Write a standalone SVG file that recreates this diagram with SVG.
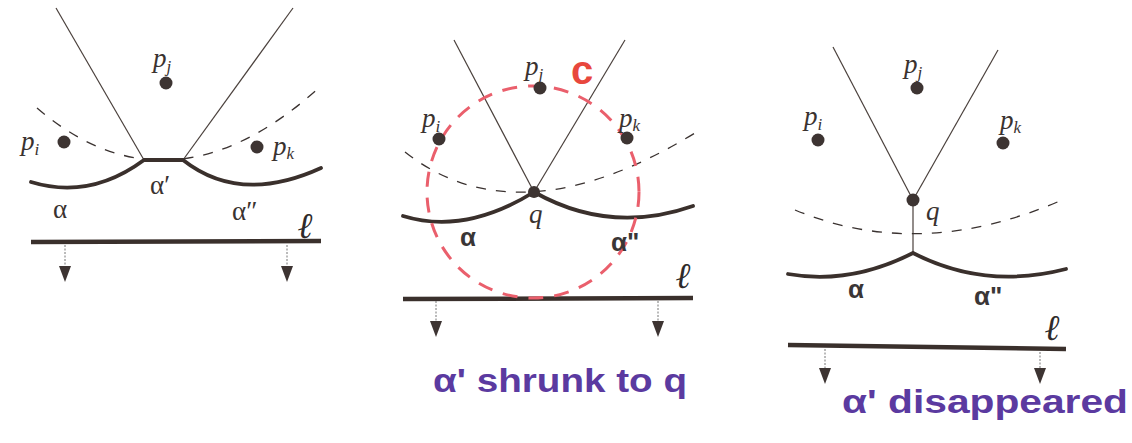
<svg xmlns="http://www.w3.org/2000/svg" width="1132" height="443" viewBox="0 0 1132 443">
<style>
.vor{stroke:#4a403c;stroke-width:1.2;fill:none}
.dash{stroke:#3a3230;stroke-width:1.3;fill:none;stroke-dasharray:10 10}
.beach{stroke:#3a302c;stroke-width:3.8;fill:none;stroke-linecap:round}
.sweep{stroke:#3a302c;stroke-width:4.5;fill:none}
.dot{fill:#3d3432}
.arr{stroke:#777;stroke-width:1;stroke-dasharray:2 1.5;fill:none}
.head{fill:#3d3432}
.lbl{font-family:"Liberation Serif",serif;font-style:italic;font-size:27px;fill:#3a3230}
.sub{font-size:17px}
.alpha{font-family:"Liberation Serif",serif;font-size:27px;fill:#3a3230}
.hand{font-family:"Liberation Sans",sans-serif;font-weight:bold;font-size:26px;fill:#3a3636}
.ell{font-family:"DejaVu Serif",serif;font-weight:bold;font-style:italic;font-size:36px;fill:#2e2a2a}
.purple{font-family:"Liberation Sans",sans-serif;font-weight:bold;font-size:34px;fill:#5b3aa0}
.red{stroke:#ea5f6c;stroke-width:3;fill:none;stroke-dasharray:15 11}
</style>

<g id="panel1">
  <g id="connectors1">
    <line class="vor" x1="56" y1="8" x2="144" y2="160"/>
    <line class="vor" x1="293" y1="8" x2="183" y2="160"/>
    <path class="dash" d="M37,108 Q170,222 320,87"/>
    <path class="beach" d="M31,182 Q90,200 144,160 L183,160 Q240,205 321,168"/>
    <line class="sweep" x1="31" y1="242" x2="321" y2="241"/>
    <line class="arr" x1="65" y1="245" x2="65" y2="266"/>
    <polygon class="head" points="59,266 71,266 65,282"/>
    <line class="arr" x1="287" y1="245" x2="287" y2="266"/>
    <polygon class="head" points="281,266 293,266 287,282"/>
  </g>
  <g id="pj1"><circle class="dot" cx="166" cy="83" r="6.5"/><text class="lbl" x="153" y="67">p<tspan class="sub" dy="5">j</tspan></text></g>
  <g id="pi1"><circle class="dot" cx="64" cy="142" r="6.5"/><text class="lbl" x="21" y="150">p<tspan class="sub" dy="5">i</tspan></text></g>
  <g id="pk1"><circle class="dot" cx="257" cy="147" r="6.5"/><text class="lbl" x="273" y="155">p<tspan class="sub" dy="4">k</tspan></text></g>
  <text class="alpha" x="53" y="218">α</text>
  <text class="alpha" x="150" y="194">α′</text>
  <text class="alpha" x="232" y="220">α″</text>
  <text class="ell" x="298" y="238">ℓ</text>
</g>

<g id="panel2">
  <g id="connectors2">
    <line class="vor" x1="454" y1="40" x2="534" y2="192"/>
    <line class="vor" x1="625" y1="40" x2="534" y2="192"/>
    <path class="dash" d="M405,152 Q518,241 695,133"/>
    <path class="beach" d="M403,216 Q465,235 534,192 Q610,235 693,206"/>
    <line class="sweep" x1="403" y1="299" x2="693" y2="298"/>
    <circle class="red" cx="533" cy="192" r="106"/>
    <line class="arr" x1="436" y1="301" x2="436" y2="321"/>
    <polygon class="head" points="430,321 442,321 436,337"/>
    <line class="arr" x1="658" y1="301" x2="658" y2="321"/>
    <polygon class="head" points="652,321 664,321 658,337"/>
  </g>
  <g id="q2"><circle class="dot" cx="534" cy="192" r="6"/><text class="lbl" x="529" y="223">q</text></g>
  <g id="pj2"><circle class="dot" cx="540" cy="88" r="6.5"/><text class="lbl" x="525" y="75">p<tspan class="sub" dy="5">j</tspan></text></g>
  <g id="pi2"><circle class="dot" cx="439" cy="139" r="6.5"/><text class="lbl" x="422" y="127">p<tspan class="sub" dy="5">i</tspan></text></g>
  <g id="pk2"><circle class="dot" cx="627" cy="138" r="6.5"/><text class="lbl" x="619" y="127">p<tspan class="sub" dy="4">k</tspan></text></g>
  <text x="571" y="84" style="font-family:'Liberation Sans',sans-serif;font-weight:bold;font-size:40px;fill:#e8473d">c</text>
  <text class="hand" x="460" y="246">α</text>
  <text class="hand" x="611" y="251">α"</text>
  <text class="ell" x="676" y="288">ℓ</text>
  <text class="purple" x="433" y="392" textLength="254" lengthAdjust="spacingAndGlyphs">α' shrunk to q</text>
</g>

<g id="panel3">
  <g id="connectors3">
    <line class="vor" x1="833" y1="47" x2="913" y2="200"/>
    <line class="vor" x1="998" y1="50" x2="913" y2="200"/>
    <line class="vor" x1="913" y1="200" x2="913" y2="254"/>
    <path class="dash" d="M795,210 Q920,262 1062,200"/>
    <path class="beach" d="M788,274 Q850,285 913,253 Q985,290 1066,269"/>
    <line class="sweep" x1="788" y1="345" x2="1066" y2="349"/>
    <line class="arr" x1="825" y1="349" x2="825" y2="368"/>
    <polygon class="head" points="819,368 831,368 825,384"/>
    <line class="arr" x1="1040" y1="352" x2="1040" y2="368"/>
    <polygon class="head" points="1034,368 1046,368 1040,384"/>
  </g>
  <g id="q3"><circle class="dot" cx="913" cy="200" r="6.5"/><text class="lbl" x="926" y="220">q</text></g>
  <g id="pj3"><circle class="dot" cx="917" cy="88" r="6.5"/><text class="lbl" x="904" y="73">p<tspan class="sub" dy="5">j</tspan></text></g>
  <g id="pi3"><circle class="dot" cx="818" cy="140" r="6.5"/><text class="lbl" x="804" y="125">p<tspan class="sub" dy="5">i</tspan></text></g>
  <g id="pk3"><circle class="dot" cx="1003" cy="143" r="6.5"/><text class="lbl" x="1000" y="129">p<tspan class="sub" dy="4">k</tspan></text></g>
  <text class="hand" x="848" y="298">α</text>
  <text class="hand" x="974" y="305">α"</text>
  <text class="ell" x="1045" y="340">ℓ</text>
  <text class="purple" x="842" y="413" textLength="286" lengthAdjust="spacingAndGlyphs">α' disappeared</text>
</g>
</svg>
